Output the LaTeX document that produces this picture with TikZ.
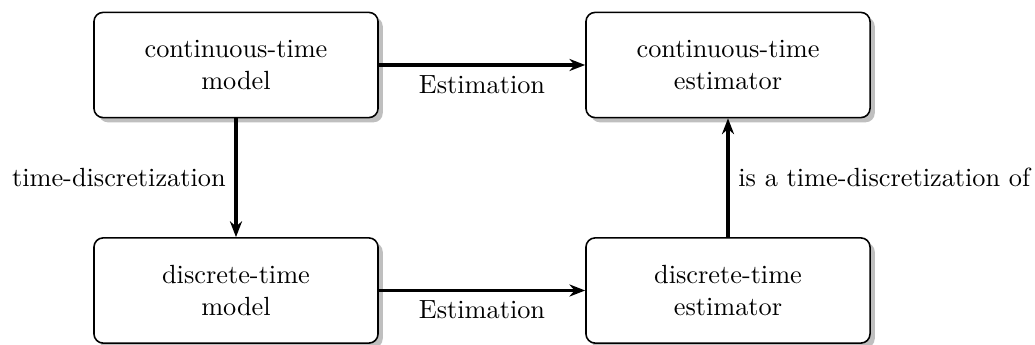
\documentclass[tikz,border=0pt]{standalone}
\usetikzlibrary{shadows,arrows.meta}
\begin{document}
\begin{tikzpicture}[x=0.3802pt,y=0.3802pt,
  blockbox/.style={draw, rounded corners=3.5pt, fill=white, line width=0.6pt,
    minimum width=108pt, minimum height=40pt, align=center,
    drop shadow={shadow xshift=1.8pt, shadow yshift=-1.8pt, fill=black!25, opacity=1}},
  conn/.style={-{Stealth[length=6pt,width=4.6pt]}, line width=1.2pt}]
\useasboundingbox (0,0) rectangle (1035,345);
\node[blockbox] (ctm) at (236,280) {continuous-time\\model};
\node[blockbox] (cte) at (728,280) {continuous-time\\estimator};
\node[blockbox] (dtm) at (236,54.5) {discrete-time\\model};
\node[blockbox] (dte) at (728,54.5) {discrete-time\\estimator};
\draw[conn] (ctm) -- node[below] {Estimation} (cte);
\draw[conn] (dtm) -- node[below] {Estimation} (dte);
\draw[conn] (ctm) -- node[left] {time-discretization} (dtm);
\draw[conn] (dte) -- node[right] {is a time-discretization of} (cte);
\end{tikzpicture}
\end{document}
